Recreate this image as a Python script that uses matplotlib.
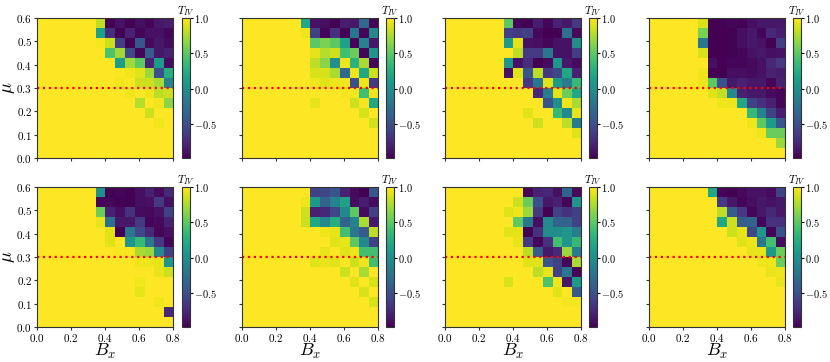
import numpy as np
import matplotlib
matplotlib.use('Agg')
import matplotlib.pyplot as plt

plt.rcParams['font.family'] = 'serif'
plt.rcParams['font.serif'] = ['cmr10']
plt.rcParams['mathtext.fontset'] = 'cm'
plt.rcParams['axes.formatter.use_mathtext'] = True

# T_IV on a 14x14 grid, rows listed from mu=0.6 (top) down to mu=0 (bottom)
bx_range = [0.0, 0.8]
mu_range = [0.0, 0.6]
mu_line = 0.3
x_ticks = [0.0, 0.2, 0.4, 0.6, 0.8]
y_ticks = [0.0, 0.1, 0.2, 0.3, 0.4, 0.5, 0.6]
cbar_ticks = [-0.5, 0.0, 0.5, 1.0]

t1 = [
    [1, 1, 1, 1, 1, 1, 0.8, -0.98, -0.88, -0.97, -0.9, -0.95, -0.85, -0.83],
    [1, 1, 1, 1, 1, 1, 0.15, -0.72, -0.97, -0.8, -0.95, -0.88, -0.88, -0.95],
    [1, 1, 1, 1, 1, 1, 0.97, 0.85, -0.62, -0.97, -0.45, -0.93, -0.85, -0.92],
    [1, 1, 1, 1, 1, 1, 1, 0.45, 0.72, -0.55, -0.95, -0.4, -0.85, -0.8],
    [1, 1, 1, 1, 1, 1, 1, 1, 0.12, 0.72, 0.5, -0.8, 0.1, -0.92],
    [1, 1, 1, 1, 1, 1, 1, 1, 0.98, 0.95, 0.9, 0.7, -0.5, 0.25],
    [1, 1, 1, 1, 1, 1, 1, 1, 0.96, 1, 0.85, 0.85, 0.75, -0.1],
    [1, 1, 1, 1, 1, 1, 1, 1, 1, 0.96, 1, 0.95, 0.8, 0.85],
    [1, 1, 1, 1, 1, 1, 1, 1, 1, 1, 0.78, 1, 0.96, 0.65],
    [1, 1, 1, 1, 1, 1, 1, 1, 1, 1, 1, 0.85, 1, 1],
    [1, 1, 1, 1, 1, 1, 1, 1, 1, 1, 1, 1, 0.96, 1],
    [1, 1, 1, 1, 1, 1, 1, 1, 1, 1, 1, 1, 1, 1],
    [1, 1, 1, 1, 1, 1, 1, 1, 1, 1, 1, 1, 1, 1],
    [1, 1, 1, 1, 1, 1, 1, 1, 1, 1, 1, 1, 1, 1],
]
t2 = [
    [1, 1, 1, 1, 1, 1, 0.2, -0.88, -0.9, -0.97, -0.82, -0.85, -0.3, -0.95],
    [1, 1, 1, 1, 1, 1, 0.95, -0.6, -0.95, -0.7, -0.97, -0.2, -0.95, -0.05],
    [1, 1, 1, 1, 1, 1, 1, 0.5, 0.6, 0.5, 0.15, -0.95, -0.1, -0.85],
    [1, 1, 1, 1, 1, 1, 1, 0.92, 0.78, 0.85, 0.4, 0.55, -0.95, 0.05],
    [1, 1, 1, 1, 1, 1, 1, 0.8, 0.65, 0.0, 0.95, 0.3, 0.75, -0.95],
    [1, 1, 1, 1, 1, 1, 1, 0.88, 0.88, 0.75, -0.3, 0.95, 0.2, 0.85],
    [1, 1, 1, 1, 1, 1, 1, 0.95, 0.9, 0.95, 0.97, -0.5, 0.95, -0.65],
    [1, 1, 1, 1, 1, 1, 1, 1, 1, 1, 0.97, 0.97, 0.4, 0.95],
    [1, 1, 1, 1, 1, 1, 1, 0.93, 1, 1, 1, 0.85, 0.97, 0.2],
    [1, 1, 1, 1, 1, 1, 1, 1, 1, 1, 1, 1, 0.88, 1],
    [1, 1, 1, 1, 1, 1, 1, 1, 1, 1, 1, 1, 1, 0.87],
    [1, 1, 1, 1, 1, 1, 1, 1, 1, 1, 1, 1, 1, 1],
    [1, 1, 1, 1, 1, 1, 1, 1, 1, 1, 1, 1, 1, 1],
    [1, 1, 1, 1, 1, 1, 1, 1, 1, 1, 1, 1, 1, 1],
]
t3 = [
    [1, 1, 1, 1, 1, 1, 0.5, -0.95, -0.97, -0.82, -0.95, -0.8, -0.85, -0.65],
    [1, 1, 1, 1, 1, 1, -0.6, -0.65, -0.6, -0.93, -0.98, -0.97, -0.25, -0.93],
    [1, 1, 1, 1, 1, 1, 0.1, 0.92, -0.88, -0.9, -0.95, -0.88, -0.88, 0.0],
    [1, 1, 1, 1, 1, 1, 1, 0.8, -0.65, -0.65, -0.2, -0.88, -0.88, -0.62],
    [1, 1, 1, 1, 1, 1, 0.05, -0.88, -0.72, -0.98, -0.92, 0.05, -0.85, -0.92],
    [1, 1, 1, 1, 1, 1, -0.88, 0.9, -0.45, 0.8, -0.65, -0.55, 0.2, -0.8],
    [1, 1, 1, 1, 1, 1, 1, 1, -0.65, -0.2, 0.9, 0.1, -0.15, 0.35],
    [1, 1, 1, 1, 1, 1, 1, 1, 1, -0.75, -0.15, 0.92, 0.55, 0.2],
    [1, 1, 1, 1, 1, 1, 1, 1, 1, 1, -0.45, 0.0, 0.95, 0.75],
    [1, 1, 1, 1, 1, 1, 1, 1, 0.9, 1, 1, 0.35, -0.05, 0.93],
    [1, 1, 1, 1, 1, 1, 1, 1, 1, 0.85, 1, 1, 0.8, -0.15],
    [1, 1, 1, 1, 1, 1, 1, 1, 1, 1, 1, 1, 1, 0.9],
    [1, 1, 1, 1, 1, 1, 1, 1, 1, 1, 1, 1, 1, 1],
    [1, 1, 1, 1, 1, 1, 1, 1, 1, 1, 1, 1, 1, 1],
]
t4 = [
    [1, 1, 1, 1, 1, 0.88, -0.98, -0.97, -0.95, -0.97, -0.9, -0.85, -0.85, -0.85],
    [1, 1, 1, 1, 1, 0.6, -0.98, -0.98, -0.97, -0.9, -0.85, -0.95, -0.75, -0.82],
    [1, 1, 1, 1, 1, -0.2, -0.98, -0.98, -0.97, -0.9, -0.85, -0.88, -0.97, -0.62],
    [1, 1, 1, 1, 1, 0.88, -0.98, -0.98, -0.97, -0.95, -0.88, -0.85, -0.9, -0.88],
    [1, 1, 1, 1, 1, 1, -0.9, -0.97, -0.95, -0.95, -0.93, -0.88, -0.75, -0.65],
    [1, 1, 1, 1, 1, 0.95, -0.97, -0.98, -0.9, -0.9, -0.92, -0.88, -0.8, -0.82],
    [1, 1, 1, 1, 1, 0.95, 0.5, -0.5, -0.85, -0.8, -0.85, -0.85, -0.95, -0.8],
    [1, 1, 1, 1, 1, 1, 0.9, 0.82, -0.05, -0.8, -0.85, -0.85, -0.92, -0.95],
    [1, 1, 1, 1, 1, 1, 1, 0.95, 0.95, 0.2, -0.6, -0.7, -0.8, -0.95],
    [1, 1, 1, 1, 1, 1, 1, 1, 1, 1, 0.35, -0.1, -0.6, -0.82],
    [1, 1, 1, 1, 1, 1, 1, 1, 1, 1, 0.95, 0.5, 0.1, -0.45],
    [1, 1, 1, 1, 1, 1, 1, 1, 1, 1, 1, 0.95, 0.55, 0.55],
    [1, 1, 1, 1, 1, 1, 1, 1, 1, 1, 1, 1, 1, 0.7],
    [1, 1, 1, 1, 1, 1, 1, 1, 1, 1, 1, 1, 1, 1],
]
t5 = [
    [1, 1, 1, 1, 1, 1, 0.0, -0.97, -0.95, -0.97, -0.9, -0.8, -0.92, -0.75],
    [1, 1, 1, 1, 1, 1, -0.95, -0.95, -0.97, -0.97, -0.9, -0.88, -0.65, -0.9],
    [1, 1, 1, 1, 1, 1, 0.55, -0.8, -0.9, -0.7, -0.92, -0.93, -0.88, -0.6],
    [1, 1, 1, 1, 1, 1, 0.93, -0.25, -0.85, -0.85, -0.65, -0.95, -0.93, -0.8],
    [1, 1, 1, 1, 1, 1, 1, 0.9, -0.97, -0.2, -0.55, -0.75, -0.95, -0.9],
    [1, 1, 1, 1, 1, 1, 1, 0.9, 1, 0.05, 0.35, -0.2, -0.65, -0.95],
    [1, 1, 1, 1, 1, 1, 1, 1, 0.97, 0.97, 0.75, 0.7, -0.05, -0.6],
    [1, 1, 1, 1, 1, 1, 1, 1, 1, 1, 0.95, 0.95, 0.93, 0.05],
    [1, 1, 1, 1, 1, 1, 1, 1, 1, 1, 1, 1, 0.93, 0.85],
    [1, 1, 1, 1, 1, 1, 1, 1, 1, 1, 0.96, 1, 1, 1],
    [1, 1, 1, 1, 1, 1, 1, 1, 1, 1, 0.93, 1, 1, 1],
    [1, 1, 1, 1, 1, 1, 1, 1, 1, 1, 1, 1, 0.96, 1],
    [1, 1, 1, 1, 1, 1, 1, 1, 1, 1, 1, 1, 1, -0.75],
    [1, 1, 1, 1, 1, 1, 1, 1, 1, 1, 1, 1, 1, 1],
]
t6 = [
    [1, 1, 1, 1, 1, 1, 1, -0.6, -0.55, -0.45, -0.8, -0.92, -0.98, -0.45],
    [1, 1, 1, 1, 1, 1, 0.95, 0.1, -0.35, -0.1, 0.15, -0.92, -0.82, -0.92],
    [1, 1, 1, 1, 1, 1, 0.85, -0.8, -0.75, -0.55, -0.05, 0.5, -0.92, -0.6],
    [1, 1, 1, 1, 1, 1, 0.85, 0.2, -0.05, 0.25, -0.35, -0.1, 0.75, -0.85],
    [1, 1, 1, 1, 1, 1, 1, 1, 0.95, 0.93, 0.4, -0.2, -0.4, 0.8],
    [1, 1, 1, 1, 1, 1, 1, 1, 1, 0.9, 0.93, 0.5, -0.05, -0.6],
    [1, 1, 1, 1, 1, 1, 1, 1, 0.93, 1, 0.9, 0.95, 0.4, 0.4],
    [1, 1, 1, 1, 1, 1, 1, 0.9, 0.93, 0.9, 1, 0.85, 0.95, 0.4],
    [1, 1, 1, 1, 1, 1, 1, 1, 1, 1, 0.85, 1, 0.75, 1],
    [1, 1, 1, 1, 1, 1, 1, 1, 1, 1, 1, 0.9, 1, 0.88],
    [1, 1, 1, 1, 1, 1, 1, 1, 1, 1, 1, 1, 0.88, 1],
    [1, 1, 1, 1, 1, 1, 1, 1, 1, 1, 1, 1, 1, 0.88],
    [1, 1, 1, 1, 1, 1, 1, 1, 1, 1, 1, 1, 1, 1],
    [1, 1, 1, 1, 1, 1, 1, 1, 1, 1, 1, 1, 1, 1],
]
t7 = [
    [1, 1, 1, 1, 1, 1, 1, 1, -0.95, -0.8, -0.75, -0.9, -0.35, -0.93],
    [1, 1, 1, 1, 1, 1, 1, 0.85, 0.55, -0.5, -0.85, -0.8, -0.95, 0.05],
    [1, 1, 1, 1, 1, 1, 0.9, 0.95, 0.7, -0.65, -0.97, -0.6, -0.7, -0.6],
    [1, 1, 1, 1, 1, 1, 1, 0.5, -0.2, -0.9, -0.05, -0.35, -0.35, -0.6],
    [1, 1, 1, 1, 1, 1, 0.9, 0.92, -0.97, -0.7, 0.0, 0.0, 0.05, -0.15],
    [1, 1, 1, 1, 1, 1, 1, 0.93, -0.65, -0.95, -0.7, 0.4, 0.05, 0.35],
    [1, 1, 1, 1, 1, 1, 1, 1, 0.8, -0.4, -0.85, -0.75, 0.7, -0.15],
    [1, 1, 1, 1, 1, 1, 1, 1, 0.9, 0.9, -0.45, -0.6, -0.95, 0.75],
    [1, 1, 1, 1, 1, 1, 1, 1, 1, 0.8, 0.93, -0.6, -0.2, -0.95],
    [1, 1, 1, 1, 1, 1, 0.88, 1, 1, 1, 0.45, 0.95, -0.85, 0.1],
    [1, 1, 1, 1, 1, 1, 1, 1, 1, 1, 1, 0.9, 1, -0.4],
    [1, 1, 1, 1, 1, 1, 1, 1, 1, 1, 1, 1, 0.97, 0.97],
    [1, 1, 1, 1, 1, 1, 1, 1, 1, 1, 1, 1, 1, 1],
    [1, 1, 1, 1, 1, 1, 1, 1, 1, 1, 1, 1, 1, 1],
]
t8 = [
    [1, 1, 1, 1, 1, 1, 0.2, -0.95, -0.97, -0.93, -0.88, -0.88, -0.92, -0.6],
    [1, 1, 1, 1, 1, 1, 1, -0.65, -0.85, -0.95, -0.9, -0.85, -0.88, -0.85],
    [1, 1, 1, 1, 1, 1, 1, 0.8, -0.4, -0.65, -0.95, -0.85, -0.75, -0.85],
    [1, 1, 1, 1, 1, 1, 1, 0.2, 0.85, -0.4, -0.35, -0.95, -0.7, -0.7],
    [1, 1, 1, 1, 1, 1, 1, 1, 0.85, 0.93, -0.55, 0.05, -0.95, -0.5],
    [1, 1, 1, 1, 1, 1, 1, 1, 1, 0.9, 0.95, -0.2, 0.4, -0.92],
    [1, 1, 1, 1, 1, 1, 1, 1, 1, 1, 0.93, 0.93, 0.1, 0.55],
    [1, 1, 1, 1, 1, 1, 1, 1, 1, 1, 1, 0.95, 0.95, 0.55],
    [1, 1, 1, 1, 1, 1, 1, 1, 1, 1, 1, 1, 0.93, 0.95],
    [1, 1, 1, 1, 1, 1, 1, 1, 1, 1, 1, 1, 1, 0.93],
    [1, 1, 1, 1, 1, 1, 1, 1, 1, 1, 1, 1, 1, 1],
    [1, 1, 1, 1, 1, 1, 1, 1, 1, 1, 1, 1, 1, 1],
    [1, 1, 1, 1, 1, 1, 1, 1, 1, 1, 1, 1, 1, 1],
    [1, 1, 1, 1, 1, 1, 1, 1, 1, 1, 1, 1, 1, 1],
]
panels = [t1, t2, t3, t4, t5, t6, t7, t8]

fig = plt.figure(figsize=(8.3, 3.62), dpi=100)

# axes placement in figure fractions
ax_left = [0.0446, 0.2916, 0.5361, 0.7819]
cb_left = [0.2193, 0.4651, 0.7096, 0.9554]
row_bottom = [0.5635, 0.0967]
ax_w, ax_h, cb_w = 0.1639, 0.3867, 0.0096

for i, data in enumerate(panels):
    r, c = divmod(i, 4)
    ax = fig.add_axes([ax_left[c], row_bottom[r], ax_w, ax_h])
    cax = fig.add_axes([cb_left[c], row_bottom[r], cb_w, ax_h])

    im = ax.imshow(np.array(data), cmap='viridis', vmin=-0.98, vmax=1.0,
                   origin='upper', aspect='auto', interpolation='nearest',
                   extent=[bx_range[0], bx_range[1], mu_range[0], mu_range[1]])
    ax.axhline(mu_line, color='red', ls=':', lw=1.6)

    ax.set_xlim(bx_range)
    ax.set_ylim(mu_range)
    ax.set_xticks(x_ticks)
    ax.set_yticks(y_ticks)
    ax.tick_params(labelsize=8, length=2.5, pad=1, color='#333333')
    for s in ax.spines.values():
        s.set_color('#333333')
    if c == 0:
        ax.set_ylabel(r'$\mu$', fontsize=13)
        ax.yaxis.set_label_coords(-0.15, 0.5)
    else:
        ax.set_yticklabels([])
    if r == 1:
        ax.set_xlabel(r'$B_x$', fontsize=13)
        ax.xaxis.set_label_coords(0.5, -0.11)
    else:
        ax.set_xticklabels([])

    cb = fig.colorbar(im, cax=cax, ticks=cbar_ticks)
    cb.ax.tick_params(labelsize=7.5, length=2, pad=1)
    cb.outline.set_edgecolor('#333333')
    cax.set_title(r'$T_{IV}$', fontsize=8, pad=3)

fig.savefig('out.png', dpi=100)
